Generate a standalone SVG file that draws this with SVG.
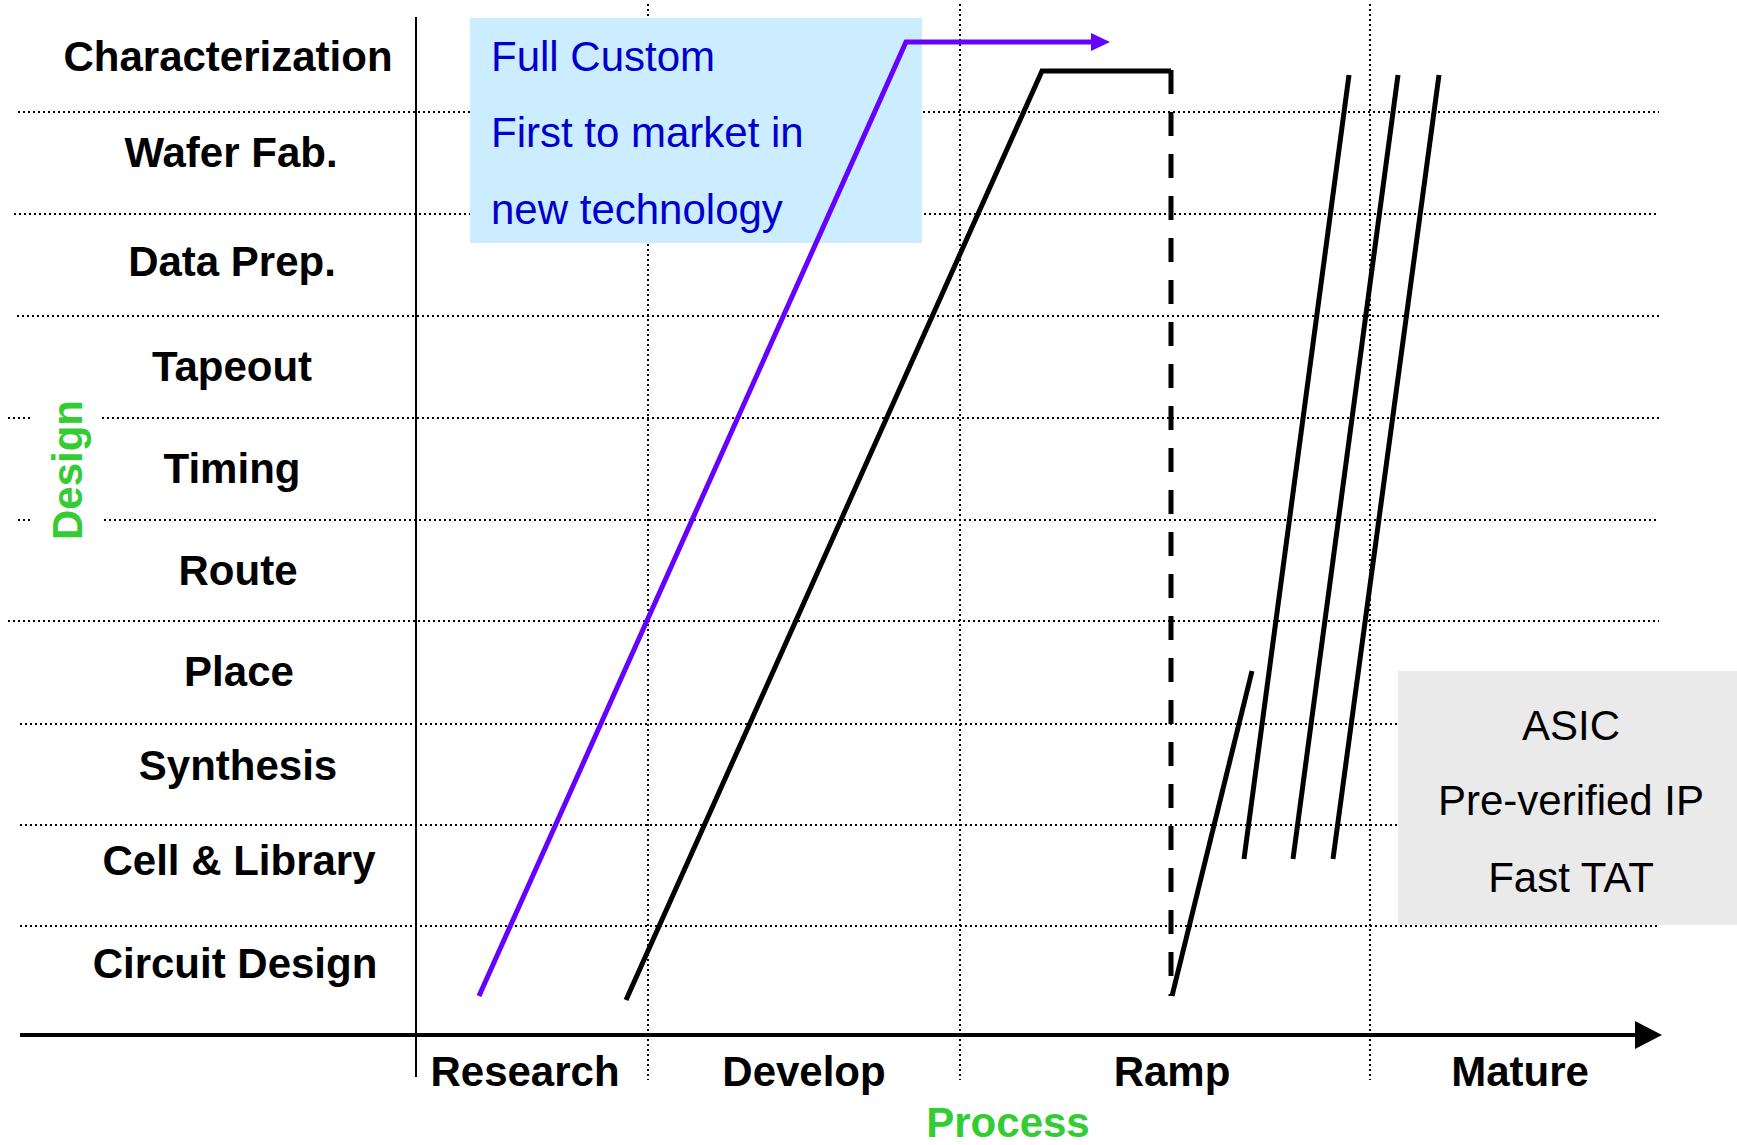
<svg xmlns="http://www.w3.org/2000/svg" width="1737" height="1145" viewBox="0 0 1737 1145">
  <style>
    .grid { stroke: #000; stroke-width: 2; stroke-dasharray: 2 3; fill: none; }
    .lbl { font-family: "Liberation Sans", Arial, sans-serif; font-weight: bold; font-size: 42px; fill: #000; text-anchor: middle; }
    .axis-title { font-family: "Liberation Sans", Arial, sans-serif; font-weight: bold; font-size: 42px; fill: #33CC33; text-anchor: middle; }
    .note { font-family: "Liberation Sans", Arial, sans-serif; font-size: 42px; }
    .trend { fill: none; stroke: #000; stroke-width: 5; }
  </style>
  <rect width="1737" height="1145" fill="#fff"/>

  <!-- dotted grid -->
  <g id="grid">
    <line class="grid" x1="18" y1="112" x2="1659" y2="112"/>
    <line class="grid" x1="14" y1="214" x2="1659" y2="214"/>
    <line class="grid" x1="17" y1="316" x2="1659" y2="316"/>
    <line class="grid" x1="8" y1="418" x2="31" y2="418"/>
    <line class="grid" x1="102" y1="418" x2="1659" y2="418"/>
    <line class="grid" x1="18" y1="520" x2="31" y2="520"/>
    <line class="grid" x1="104" y1="520" x2="1659" y2="520"/>
    <line class="grid" x1="8" y1="621" x2="1659" y2="621"/>
    <line class="grid" x1="20" y1="724" x2="1659" y2="724"/>
    <line class="grid" x1="20" y1="825" x2="1659" y2="825"/>
    <line class="grid" x1="20" y1="926" x2="1659" y2="926"/>
    <line class="grid" x1="648" y1="4" x2="648" y2="1080"/>
    <line class="grid" x1="960" y1="4" x2="960" y2="1080"/>
    <line class="grid" x1="1370" y1="4" x2="1370" y2="1080"/>
  </g>

  <!-- axes -->
  <g id="axes">
    <line x1="416" y1="17" x2="416" y2="1077" stroke="#000" stroke-width="2"/>
    <line x1="20" y1="1035" x2="1637" y2="1035" stroke="#000" stroke-width="4"/>
    <polygon points="1635,1021 1662,1035 1635,1049" fill="#000"/>
  </g>

  <!-- design steps -->
  <g id="design-steps" class="lbl">
    <text x="228" y="71">Characterization</text>
    <text x="231" y="167">Wafer Fab.</text>
    <text x="232" y="276">Data Prep.</text>
    <text x="232" y="381">Tapeout</text>
    <text x="232" y="483">Timing</text>
    <text x="238" y="585">Route</text>
    <text x="239" y="686">Place</text>
    <text x="238" y="780">Synthesis</text>
    <text x="239" y="875">Cell &amp; Library</text>
    <text x="235" y="978">Circuit Design</text>
  </g>

  <!-- process phases -->
  <g id="phases" class="lbl">
    <text x="525" y="1086">Research</text>
    <text x="804" y="1086">Develop</text>
    <text x="1172" y="1086">Ramp</text>
    <text x="1520" y="1086">Mature</text>
  </g>

  <g id="axis-titles" class="axis-title">
    <text x="1008" y="1137">Process</text>
    <text transform="translate(82,470) rotate(-90)">Design</text>
  </g>

  <!-- full custom box -->
  <g id="full-custom">
    <rect x="470" y="18" width="452" height="225" fill="#CCECFF"/>
    <g class="note" fill="#0000CC">
      <text x="491" y="71">Full Custom</text>
      <text x="491" y="147">First to market in</text>
      <text x="491" y="224">new technology</text>
    </g>
  </g>

  <!-- asic box -->
  <g id="asic">
    <rect x="1398" y="671" width="339" height="254" fill="#EAEAEA"/>
    <g class="note" fill="#000" text-anchor="middle">
      <text x="1571" y="740">ASIC</text>
      <text x="1571" y="815">Pre-verified IP</text>
      <text x="1571" y="892">Fast TAT</text>
    </g>
  </g>

  <!-- trend lines -->
  <g id="connectors">
    <polyline points="479,996 906,42 1093,42" fill="none" stroke="#6600FF" stroke-width="5"/>
    <polygon points="1091,33 1110,42 1091,51" fill="#6600FF"/>
    <polyline class="trend" points="626,1000 1042,71 1171,71"/>
    <line class="trend" x1="1171" y1="70" x2="1171" y2="996" stroke-dasharray="24 18"/>
    <line class="trend" x1="1172" y1="996" x2="1252" y2="671"/>
    <line class="trend" x1="1244" y1="859" x2="1349" y2="75"/>
    <line class="trend" x1="1293" y1="859" x2="1398" y2="75"/>
    <line class="trend" x1="1333" y1="859" x2="1439" y2="75"/>
  </g>
</svg>
